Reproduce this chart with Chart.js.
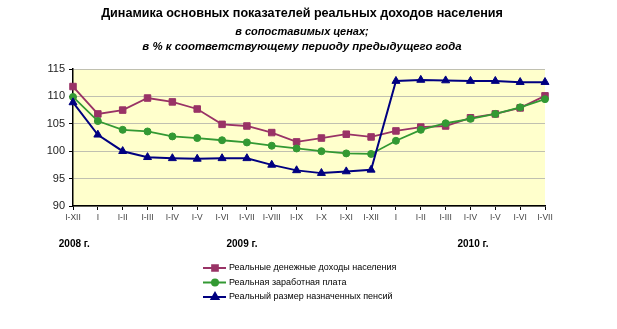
<!DOCTYPE html>
<html lang="ru">
<head>
<meta charset="utf-8">
<title>Динамика основных показателей реальных доходов населения</title>
<script src="https://cdn.jsdelivr.net/npm/chart.js@4.4.1/dist/chart.umd.min.js"></script>
<style>
  html, body { margin: 0; padding: 0; background: #fff; }
  #wrap { position: relative; width: 617px; height: 329px; }
</style>
</head>
<body>
<div id="wrap"><canvas id="chart" width="617" height="329"></canvas></div>
<script>
// Periods: cumulative from January of each year
const periods = ['I-XII', 'I', 'I-II', 'I-III', 'I-IV', 'I-V', 'I-VI', 'I-VII', 'I-VIII', 'I-IX', 'I-X', 'I-XI', 'I-XII',
                 'I', 'I-II', 'I-III', 'I-IV', 'I-V', 'I-VI', 'I-VII'];
const years = ['2008 г.', '2009 г.', '2010 г.'];

const seriesNames = [
  'Реальные денежные доходы населения',
  'Реальная заработная плата',
  'Реальный размер назначенных пенсий'
];

// % к соответствующему периоду предыдущего года
const incomes  = [111.8, 106.8, 107.5, 109.7, 109.0, 107.7, 104.9, 104.6, 103.4, 101.7, 102.4, 103.1, 102.6,
                  103.7, 104.4, 104.6, 106.1, 106.8, 107.9, 110.1];
const wages    = [109.9, 105.5, 103.9, 103.6, 102.7, 102.4, 102.0, 101.6, 101.0, 100.5, 100.0, 99.6, 99.5,
                  101.9, 103.9, 105.1, 105.9, 106.8, 108.0, 109.5];
const pensions = [108.9, 103.0, 100.0, 98.9, 98.7, 98.6, 98.7, 98.7, 97.5, 96.5, 96.0, 96.3, 96.6,
                  112.8, 113.0, 112.9, 112.8, 112.8, 112.6, 112.6];

const FONT = '"Liberation Sans", Arial, sans-serif';

// Yellow plot background
const plotBackground = {
  id: 'plotBackground',
  beforeDraw(chart) {
    const { ctx, chartArea: a } = chart;
    ctx.save();
    ctx.fillStyle = '#FFFFCC';
    ctx.fillRect(a.left, a.top, a.right - a.left, a.bottom - a.top);
    ctx.restore();
  }
};

// Heading lines above the plot
const headings = {
  id: 'headings',
  afterDraw(chart) {
    const ctx = chart.ctx;
    ctx.save();
    ctx.fillStyle = '#000';
    ctx.textAlign = 'center';
    ctx.textBaseline = 'middle';
    ctx.font = 'bold 12.6px ' + FONT;
    ctx.fillText('Динамика основных показателей реальных доходов населения', 302, 14);
    ctx.font = 'italic bold 11px ' + FONT;
    ctx.fillText('в сопоставимых ценах;', 302, 32);
    ctx.font = 'italic bold 11.4px ' + FONT;
    ctx.fillText('в % к соответствующему периоду предыдущего года', 302, 47);
    ctx.restore();
  }
};

// Year captions under the category axis
const yearCaptions = {
  id: 'yearCaptions',
  afterDraw(chart) {
    const { ctx } = chart;
    const x = chart.scales.x;
    const anchors = [0.05, 6.8, 16.1];
    ctx.save();
    ctx.fillStyle = '#000';
    ctx.font = 'bold 10px ' + FONT;
    ctx.textAlign = 'center';
    ctx.textBaseline = 'middle';
    years.forEach((y, i) => ctx.fillText(y, x.getPixelForValue(anchors[i]), 244));
    ctx.restore();
  }
};

// Vertical legend below the chart
const sideLegend = {
  id: 'sideLegend',
  afterDraw(chart) {
    const { ctx } = chart;
    ctx.save();
    chart.data.datasets.forEach((ds, i) => {
      const y = 268 + i * 14.5;
      ctx.strokeStyle = ds.borderColor;
      ctx.lineWidth = 2;
      ctx.beginPath();
      ctx.moveTo(203, y);
      ctx.lineTo(226, y);
      ctx.stroke();
      ctx.fillStyle = ds.pointBackgroundColor;
      ctx.strokeStyle = ds.pointBorderColor;
      Chart.helpers.drawPoint(ctx, {
        pointStyle: ds.pointStyle,
        radius: ds.pointStyle === 'circle' ? 3 : 4,
        borderWidth: 1,
        rotation: 0
      }, 215, y);
      ctx.fillStyle = '#000';
      ctx.font = '9px ' + FONT;
      ctx.textAlign = 'left';
      ctx.textBaseline = 'middle';
      ctx.fillText(ds.label, 229, y);
    });
    ctx.restore();
  }
};

const purple = '#993366', green = '#339933', navy = '#000080';

new Chart(document.getElementById('chart'), {
  type: 'line',
  data: {
    labels: periods,
    datasets: [
      { label: seriesNames[0], data: incomes, order: 2,
        borderColor: purple, backgroundColor: purple, pointBackgroundColor: purple, pointBorderColor: purple,
        pointStyle: 'rect', pointRadius: 4.6, borderWidth: 1.8 },
      { label: seriesNames[1], data: wages, order: 1,
        borderColor: green, backgroundColor: green, pointBackgroundColor: green, pointBorderColor: green,
        pointStyle: 'circle', pointRadius: 3.5, borderWidth: 1.8 },
      { label: seriesNames[2], data: pensions, order: 0,
        borderColor: navy, backgroundColor: navy, pointBackgroundColor: navy, pointBorderColor: navy,
        pointStyle: 'triangle', pointRadius: 4.6, borderWidth: 2 }
    ]
  },
  options: {
    responsive: false,
    animation: false,
    events: [],
    layout: { padding: { left: 0, right: 72, top: 69, bottom: 103 } },
    elements: { line: { tension: 0 }, point: { pointBorderWidth: 1 } },
    plugins: {
      legend: { display: false },
      title: { display: false },
      tooltip: { enabled: false }
    },
    scales: {
      x: {
        offset: false,
        grid: { drawOnChartArea: false, drawTicks: true, tickLength: 4, color: '#000', tickColor: '#000' },
        border: { color: '#000', width: 1.5 },
        ticks: { font: { family: FONT, size: 8.5 }, color: '#444', padding: 3, maxRotation: 0, autoSkip: false },
        afterFit(s) { s.height = 20; }
      },
      y: {
        min: 90, max: 115,
        grid: { color: '#c0c0b0', tickColor: '#000', tickLength: 4, lineWidth: 1 },
        border: { color: '#000', width: 1.5 },
        ticks: { stepSize: 5, font: { family: FONT, size: 11 }, color: '#222', padding: 4 },
        afterFit(s) { s.width = 73; }
      }
    }
  },
  plugins: [plotBackground, headings, yearCaptions, sideLegend]
});
</script>
</body>
</html>
